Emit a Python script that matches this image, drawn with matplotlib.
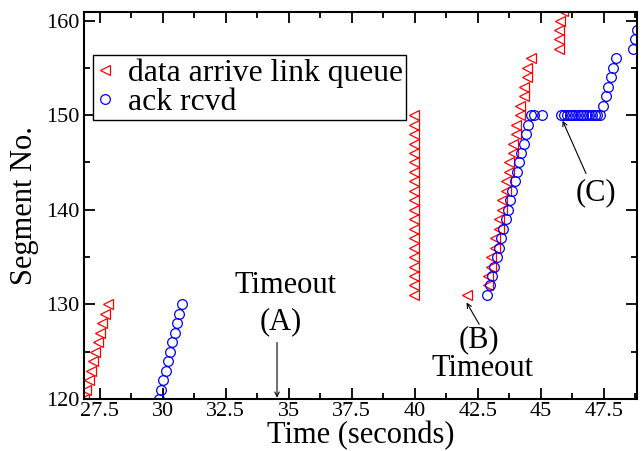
import numpy as np
import matplotlib
matplotlib.use("Agg")
import matplotlib.pyplot as plt
from matplotlib.ticker import MultipleLocator, FormatStrFormatter

plt.rcParams['font.family'] = ['Liberation Serif', 'DejaVu Serif']

# --- data -------------------------------------------------------------------
# data arriving at the link queue (red left triangles)
data_t = [26.90, 26.98, 27.07, 27.15, 27.25, 27.33, 27.42, 27.50, 27.60, 27.70, 27.82,
          39.98, 39.98, 39.98, 39.98, 39.98, 39.98, 39.98, 39.98, 39.98, 39.98,
          39.98, 39.98, 39.98, 39.98, 39.98, 39.98, 39.98, 39.98, 39.98, 39.98,
          42.06,
          42.90, 42.90, 43.04, 43.04, 43.18, 43.18, 43.33, 43.33, 43.47, 43.47,
          43.61, 43.61, 43.76, 43.76, 43.90, 43.90, 44.04, 44.04, 44.19, 44.19,
          44.33, 44.33, 44.47, 44.47, 44.62,
          45.72, 45.72, 45.74, 45.76, 45.90]
data_seg = list(range(120, 131)) + list(range(131, 151)) + [131] + \
    list(range(132, 157)) + list(range(157, 162))

# acks received (blue circles)
ack_t = [29.85, 29.94, 30.03, 30.12, 30.21, 30.30, 30.39, 30.48, 30.57, 30.67, 30.77,
         42.89, 42.98, 43.07, 43.16, 43.25, 43.34, 43.43, 43.52, 43.61, 43.70,
         43.79, 43.88, 43.97, 44.06, 44.15, 44.24, 44.33, 44.42, 44.51, 44.60,
         44.72, 45.06,
         45.82, 45.93, 46.04, 46.15, 46.26, 46.37, 46.48, 46.59, 46.70, 46.81,
         46.92, 47.03, 47.14, 47.25, 47.35,
         47.46, 47.58, 47.66, 47.78, 47.86, 47.98,
         48.65, 48.75, 48.84]
ack_seg = list(range(120, 131)) + list(range(131, 151)) + [150, 150] + \
    [150] * 15 + list(range(151, 157)) + [157, 158, 159]

x_ticks = [27.5, 30, 32.5, 35, 37.5, 40, 42.5, 45, 47.5]
y_ticks = [120, 130, 140, 150, 160]

# --- figure -----------------------------------------------------------------
fig = plt.figure(figsize=(6.44, 4.51), dpi=100)
ax = fig.add_axes([0.1304, 0.1153, 0.8586, 0.8581])

ax.plot(data_t, data_seg, linestyle='none', marker='<', markersize=7,
        markerfacecolor='none', markeredgecolor='#ff0000', markeredgewidth=0.9,
        label='data arrive link queue')
ax.plot(ack_t, ack_seg, linestyle='none', marker='o', markersize=7,
        markerfacecolor='none', markeredgecolor='#0000ff', markeredgewidth=0.9,
        label='ack rcvd')

ax.set_xlim(26.88, 48.82)
ax.set_ylim(120, 160.9)
ax.set_xticks(x_ticks)
ax.set_yticks(y_ticks)
ax.xaxis.set_major_formatter(FormatStrFormatter('%g'))
ax.xaxis.set_minor_locator(MultipleLocator(1.25))
ax.yaxis.set_minor_locator(MultipleLocator(5))
ax.tick_params(which='both', direction='in', top=True, right=True,
               width=1.3, labelsize=16, pad=3)
ax.tick_params(axis='x', pad=2)
ax.tick_params(which='major', length=8)
ax.tick_params(which='minor', length=4)
for sp in ax.spines.values():
    sp.set_linewidth(1.5)

ax.set_xlabel('Time (seconds)', fontsize=22, labelpad=0)
ax.set_ylabel('Segment No.', fontsize=22, labelpad=5)

# annotations
ax.text(34.89, 131.24, 'Timeout', fontsize=22, ha='center', va='baseline')
ax.text(34.67, 127.42, '(A)', fontsize=22, ha='center', va='baseline')
ax.annotate('', xy=(34.54, 120.14), xytext=(34.54, 125.97),
            arrowprops=dict(arrowstyle='->', color='black', lw=0.8,
                            mutation_scale=8, shrinkA=0, shrinkB=0))

ax.text(42.56, 125.5, '(B)', fontsize=22, ha='center', va='baseline')
ax.text(42.69, 122.45, 'Timeout', fontsize=22, ha='center', va='baseline')
ax.annotate('', xy=(42.06, 130.2), xytext=(42.56, 127.9),
            arrowprops=dict(arrowstyle='->', color='black', lw=0.8,
                            mutation_scale=8, shrinkA=0, shrinkB=0))

ax.text(47.19, 141.0, '(C)', fontsize=22, ha='center', va='baseline')
ax.annotate('', xy=(45.87, 149.41), xytext=(46.80, 143.83),
            arrowprops=dict(arrowstyle='->', color='black', lw=0.8,
                            mutation_scale=8, shrinkA=0, shrinkB=0))

leg = ax.legend(loc='upper left', bbox_to_anchor=(0.016, 0.889),
                borderaxespad=0, fontsize=22.8, frameon=True, fancybox=False,
                framealpha=1, edgecolor='black', handlelength=0.6,
                handletextpad=0.4, labelspacing=0.0, borderpad=0.1,
                numpoints=1)
leg.get_frame().set_linewidth(1.0)

fig.savefig('out.png', dpi=100)
